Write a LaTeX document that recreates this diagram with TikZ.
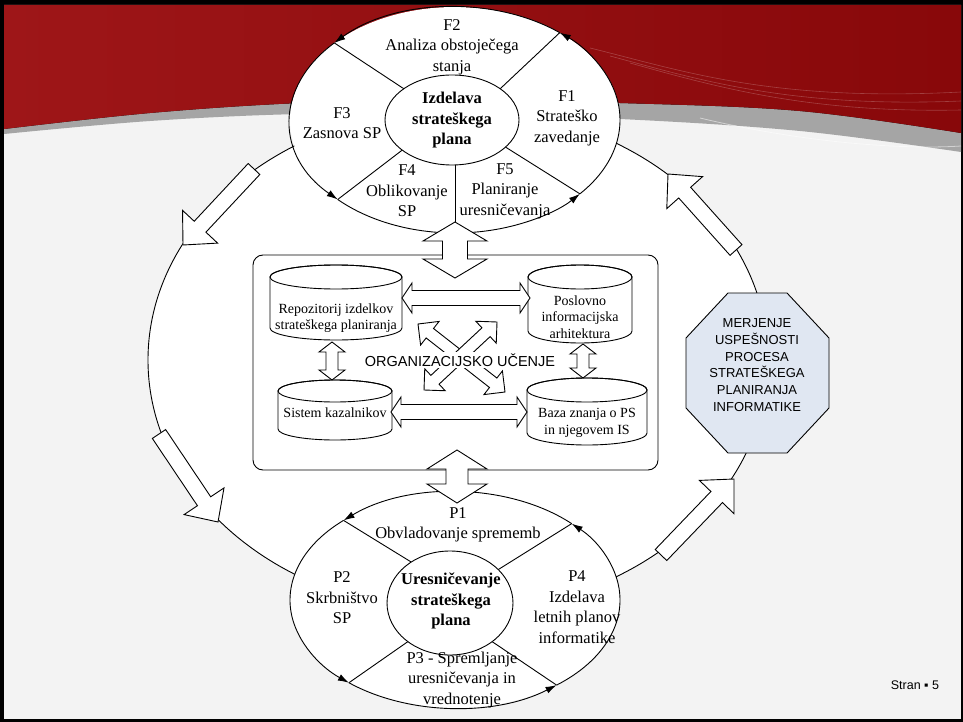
\documentclass[tikz,border=0pt]{standalone}
\usepackage{fontspec}
\setmainfont{Liberation Serif}
\setsansfont{Liberation Sans}
\usetikzlibrary{calc,arrows.meta}

\definecolor{slidebg}{RGB}{243,243,243}
\definecolor{redlight}{RGB}{158,22,24}
\definecolor{reddark}{RGB}{136,8,10}
\definecolor{bandgrey}{RGB}{165,165,165}
\definecolor{octfill}{RGB}{224,231,242}

\tikzset{
  ring/.style={line width=0.9pt},
  arcarrow/.style={line width=0.9pt,-{Latex[length=11pt,width=7pt]}},
  blockarrow/.style={draw,fill=white,line width=0.9pt,line join=miter},
  cylbody/.style={draw,fill=white,line width=0.9pt},
  eltext/.style={align=center,inner sep=0pt,font=\fontsize{16.5}{20.5}\selectfont},
  coretext/.style={align=center,inner sep=0pt,font=\bfseries\fontsize{16.5}{20.5}\selectfont},
  dbtext/.style={align=center,inner sep=0pt,font=\fontsize{14}{16.5}\selectfont},
}

% double-headed block arrow: tips #1 and #2, shaft half-width #3, head half-width #4, head length #5
\newcommand\dblblock[5]{%
  \coordinate (hb1) at ($(#1)!#5!(#2)$);
  \coordinate (hb2) at ($(#2)!#5!(#1)$);
  \draw[blockarrow] (#1) -- ($(hb1)!#4!90:(#2)$) -- ($(hb1)!#3!90:(#2)$)
    -- ($(hb2)!#3!-90:(#1)$) -- ($(hb2)!#4!-90:(#1)$) -- (#2)
    -- ($(hb2)!#4!90:(#1)$) -- ($(hb2)!#3!90:(#1)$)
    -- ($(hb1)!#3!-90:(#2)$) -- ($(hb1)!#4!-90:(#2)$) -- cycle;}

% single block arrow: tail #1, tip #2, shaft half-width #3, head half-width #4, head length #5
\newcommand\oneblock[5]{%
  \coordinate (hb) at ($(#2)!#5!(#1)$);
  \draw[blockarrow] ($(#1)!#3!90:(#2)$) -- ($(hb)!#3!-90:(#1)$) -- ($(hb)!#4!-90:(#1)$)
    -- (#2) -- ($(hb)!#4!90:(#1)$) -- ($(hb)!#3!90:(#1)$) -- ($(#1)!#3!-90:(#2)$) -- cycle;}

% upright database cylinder: centre x #1, top #2, bottom #3, x radius #4, y radius #5
\newcommand\dbcyl[5]{%
  \path[cylbody] ({#1-#4},{#2+#5}) -- ({#1-#4},{#3-#5})
    arc[start angle=180,end angle=0,x radius=#4,y radius=#5]
    -- ({#1+#4},{#2+#5}) arc[start angle=0,end angle=-180,x radius=#4,y radius=#5] -- cycle;
  \draw[ring] (#1,{#2+#5}) ellipse[x radius=#4,y radius=#5];}

\begin{document}
\begin{tikzpicture}[x=1pt,y=-1pt]
\useasboundingbox (0,0) rectangle (963,722);

% slide frame and background
\fill[black] (0,0) rectangle (963,722);
\fill[slidebg] (4,5) rectangle (961,719);

% red banner with grey band
\fill[bandgrey] (4,5) -- (961,5) -- plot[smooth,tension=0.6] coordinates
  {(961,152) (800,131) (620,119) (450,114) (300,114) (150,121) (4,134)} -- cycle;
\fill[left color=redlight,right color=reddark] (4,5) -- (961,5) -- plot[smooth,tension=0.6] coordinates
  {(961,133) (800,111) (620,103) (450,100) (300,103) (150,113) (4,129)} -- cycle;
\begin{scope}[white,opacity=0.22,line width=0.6pt]
  \draw (590,48) .. controls (680,70) and (770,102) .. (961,92);
  \draw (610,56) .. controls (700,80) and (790,108) .. (961,101);
  \draw (630,63) .. controls (720,88) and (810,113) .. (961,110);
\end{scope}
\draw[white,opacity=0.5,line width=0.8pt] (700,118) .. controls (800,142) and (900,150) .. (961,146);

% outer cycle
\coordinate (loopc) at (458,360);
\draw[ring,fill=white] (loopc) ellipse[x radius=310,y radius=252];

% ---------- strategic plan preparation ----------
\coordinate (topc) at (455,120);
\coordinate (topin) at (452,120);
\fill[white] (topc) ellipse[x radius=165,y radius=113];
\draw[arcarrow] ([shift={(40.8:165 and 113)}]topc) arc[start angle=40.8,end angle=-50.6,x radius=165,y radius=113];
\draw[arcarrow] ([shift={(-50.6:165 and 113)}]topc) arc[start angle=-50.6,end angle=-137,x radius=165,y radius=113];
\draw[arcarrow] ([shift={(223:165 and 113)}]topc) arc[start angle=223,end angle=135.3,x radius=165,y radius=113];
\draw[arcarrow] ([shift={(135.3:165 and 113)}]topc) arc[start angle=135.3,end angle=40.8,x radius=165,y radius=113];
\draw[ring] ([shift={(-136:67 and 45)}]topin) -- ([shift={(-137:165 and 113)}]topc);
\draw[ring] ([shift={(-44:67 and 45)}]topin) -- ([shift={(-50.6:165 and 113)}]topc);
\draw[ring] ([shift={(138:67 and 45)}]topin) -- ([shift={(135.3:165 and 113)}]topc);
\draw[ring] ([shift={(37:67 and 45)}]topin) -- ([shift={(40.8:165 and 113)}]topc);
\draw[ring,fill=white] (topin) ellipse[x radius=67,y radius=45];
\coordinate (topinb) at ([shift={(0,45)}]topin);
\coordinate (tA1) at (455,222);
\coordinate (tA2) at (455,278);
\draw[ring] (tA1) -- (tA1 |- topinb);

\node[coretext] (tophub) at (452,120.5) {Izdelava\\strateškega\\plana};
\node[eltext] (f2) at (452,47) {F2\\Analiza obstoječega\\stanja};
\node[eltext] (f3) at (342,123) {F3\\Zasnova SP};
\node[eltext] (f1) at (567,118) {F1\\Strateško\\zavedanje};
\node[eltext] (f4) at (407,191) {F4\\Oblikovanje\\SP};
\node[eltext] (f5) at (505,191) {F5\\Planiranje\\uresničevanja};

% ---------- strategic plan realisation ----------
\coordinate (botc) at (455,600);
\coordinate (botin) at (450,603);
\fill[white] (botc) ellipse[x radius=165,y radius=108];
\draw[arcarrow] ([shift={(-45:165 and 108)}]botc) arc[start angle=-45,end angle=-132.5,x radius=165,y radius=108];
\draw[arcarrow] ([shift={(227.5:165 and 108)}]botc) arc[start angle=227.5,end angle=130,x radius=165,y radius=108];
\draw[arcarrow] ([shift={(130:165 and 108)}]botc) arc[start angle=130,end angle=52,x radius=165,y radius=108];
\draw[arcarrow] ([shift={(52:165 and 108)}]botc) arc[start angle=52,end angle=-45,x radius=165,y radius=108];
\draw[ring] ([shift={(-128:63 and 52)}]botin) -- ([shift={(-132.5:165 and 108)}]botc);
\draw[ring] ([shift={(-40:63 and 52)}]botin) -- ([shift={(-45:165 and 108)}]botc);
\draw[ring] ([shift={(132:63 and 52)}]botin) -- ([shift={(130:165 and 108)}]botc);
\draw[ring] ([shift={(48:63 and 52)}]botin) -- ([shift={(52:165 and 108)}]botc);
\draw[ring,fill=white] (botin) ellipse[x radius=63,y radius=52];

\node[coretext] (bothub) at (451,601) {Uresničevanje\\strateškega\\plana};
\node[eltext] (p1) at (458,525) {P1\\Obvladovanje sprememb};
\node[eltext] (p2) at (342,598) {P2\\Skrbništvo\\SP};
\node[eltext] (p4) at (577,607) {P4\\Izdelava\\letnih planov\\informatike};
\node[eltext] (p3) at (462,680) {P3 - Spremljanje\\uresničevanja in\\vrednotenje};

% ---------- organisational learning ----------
\node[draw,ring,fill=white,rounded corners=10pt,minimum width=405pt,minimum height=215pt,inner sep=0pt]
  (orgbox) at (455.5,362.5) {};

\dblblock{tA1}{tA2}{12.5pt}{32pt}{19pt}
\coordinate (bA1) at (457,450);
\coordinate (bA2) at (457,503);
\dblblock{bA1}{bA2}{11pt}{30pt}{19pt}

\dbcyl{336}{265}{340}{66}{12}
\dbcyl{580}{265}{343}{52}{12}
\dbcyl{335}{380}{440}{57}{11}
\dbcyl{587}{378}{445}{60}{12}
\node[dbtext] (repo) at (336,318) {Repozitorij izdelkov\\strateškega planiranja};
\node[dbtext] (arch) at (580,317) {Poslovno\\informacijska\\arhitektura};
\node[dbtext] (kpi) at (335,413) {Sistem kazalnikov};
\node[dbtext] (know) at (587,423) {Baza znanja o PS\\in njegovem IS};

\coordinate (c1r) at (402,298);
\coordinate (c2l) at (530,298);
\coordinate (c3r) at (391,412);
\coordinate (c4l) at (527,412);
\coordinate (c1b) at (332,342);
\coordinate (c3t) at (332,380);
\coordinate (c2b) at (583,344);
\coordinate (c4t) at (583,378);
\dblblock{c1r}{c2l}{7.5pt}{15pt}{10pt}
\dblblock{c3r}{c4l}{7.5pt}{15pt}{10pt}
\dblblock{c1b}{c3t}{6pt}{13pt}{10pt}
\dblblock{c2b}{c4t}{6pt}{13pt}{10pt}

\coordinate (xa) at (418,324);
\coordinate (xb) at (505,392);
\coordinate (xc) at (497,322);
\coordinate (xd) at (424,390);
\dblblock{xa}{xb}{6pt}{15pt}{15pt}
\dblblock{xc}{xd}{6pt}{15pt}{15pt}
\node[font=\sffamily\fontsize{14.5}{16}\selectfont,fill=white,inner sep=2pt] (learn) at (460,360) {ORGANIZACIJSKO UČENJE};

% ---------- cycle arrows ----------
\coordinate (tlA) at (254,169); \coordinate (tlB) at (183,245);
\coordinate (lbA) at (159,434); \coordinate (lbB) at (218,522);
\coordinate (brA) at (661,555); \coordinate (brB) at (734,479);
\coordinate (trA) at (736,250); \coordinate (trB) at (668,174);
\oneblock{tlA}{tlB}{8pt}{24pt}{25pt}
\oneblock{lbA}{lbB}{8pt}{24pt}{25pt}
\oneblock{brA}{brB}{8pt}{24pt}{25pt}
\oneblock{trA}{trB}{8pt}{24pt}{25pt}

% ---------- success measurement ----------
\draw[ring,fill=octfill] (728,293) -- (787,293) -- (829,338) -- (829,408) -- (787,453)
  -- (728,453) -- (686,408) -- (686,338) -- cycle;
\node[align=center,inner sep=0pt,font=\sffamily\fontsize{13}{16.8}\selectfont] (measure) at (757,365)
  {MERJENJE\\USPEŠNOSTI\\PROCESA\\STRATEŠKEGA\\PLANIRANJA\\INFORMATIKE};

\node[font=\sffamily\fontsize{12.5}{14}\selectfont,inner sep=0pt] (pageno) at (915,685) {Stran ▪ 5};
\end{tikzpicture}
\end{document}
